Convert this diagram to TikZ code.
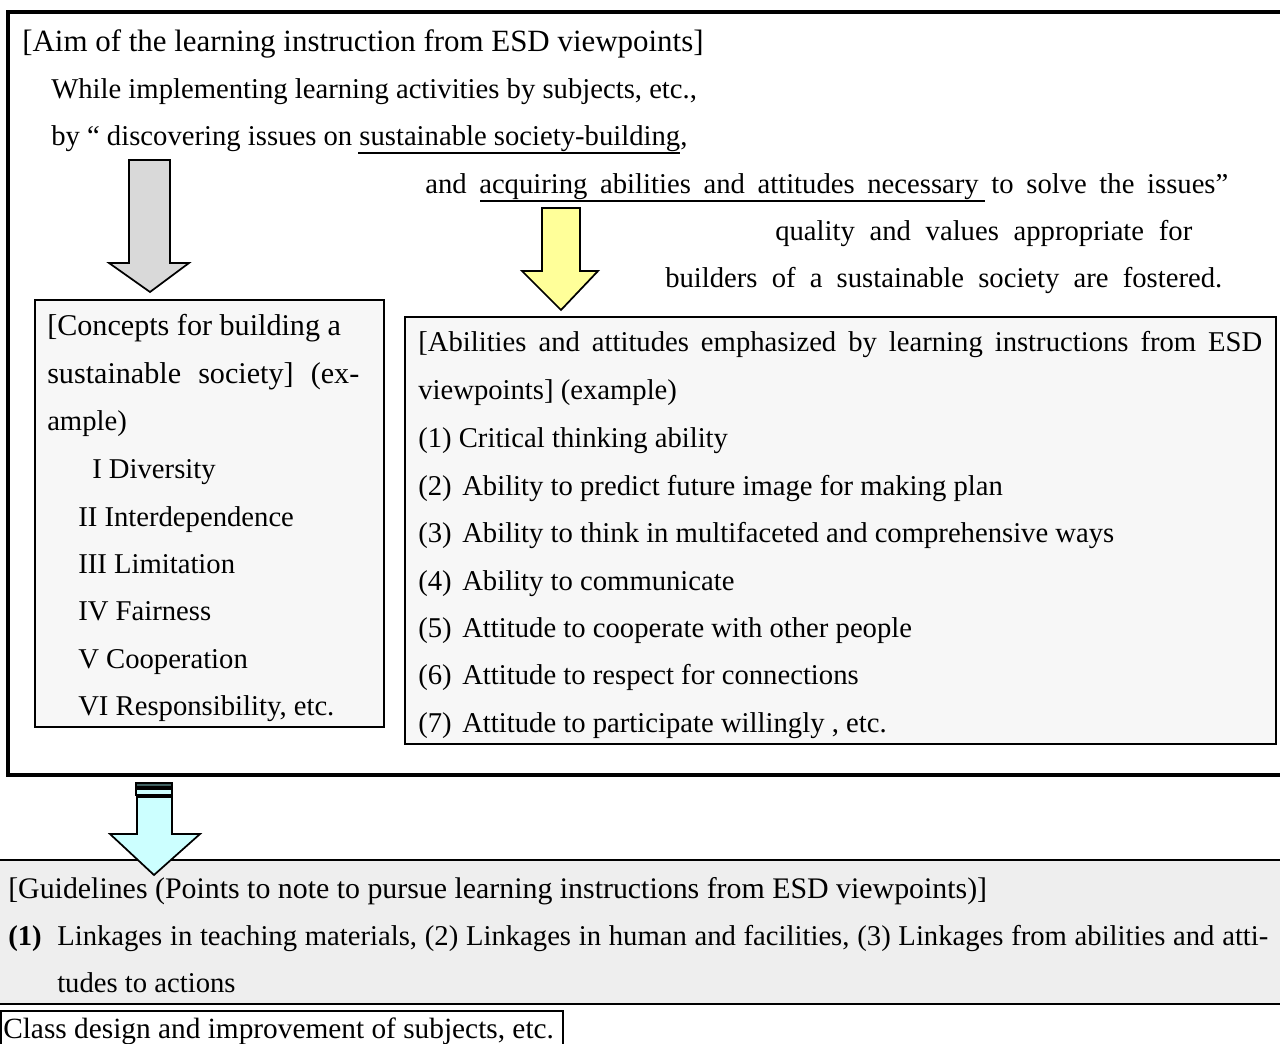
\documentclass[tikz,border=0pt]{standalone}
\usepackage{fontspec}
\setmainfont{Liberation Serif}
\definecolor{boxbg}{HTML}{F7F7F7}
\definecolor{arrgray}{HTML}{D9D9D9}
\definecolor{arryellow}{HTML}{FFFF99}
\definecolor{arrcyan}{HTML}{CCFFFF}
\definecolor{stripedark}{HTML}{3F5F5F}
\definecolor{bandgray}{HTML}{EEEEEE}
\newlength\pxu \setlength\pxu{0.75pt}
\newcommand\jline[2]{\makebox[#1\pxu][s]{#2}}
\begin{document}
\begin{tikzpicture}[x=0.75pt,y=-0.75pt,
  txt/.style={anchor=base west, inner sep=0pt, font=\fontsize{21.5}{26}\selectfont},
  head/.style={txt, font=\fontsize{#1}{26}\selectfont},
  frameline/.style={line width=3pt},
  boxline/.style={draw, line width=1.5pt, fill=boxbg},
  blockarrow/.style={draw, line width=1.3pt, line join=miter},
  uline/.style={line width=1pt}]
\useasboundingbox (0,0) rectangle (1280,1044);
% outer frame
\draw[frameline] (1295,12) -- (8,12) -- (8,775) -- (1295,775);
% text of aim
\node[head=23.2] (aim) at (22,52) {[Aim of the learning instruction from ESD viewpoints]};
\node[txt] (l2) at (51,99) {While implementing learning activities by subjects, etc.,};
\node[txt] (l3) at (51,146) {by “ discovering issues on sustainable society-building,};
\node[txt] (l4) at (425,194) {\jline{803}{and acquiring abilities and attitudes necessary to solve the issues”}};
\node[txt] (l5) at (775,241) {\jline{417}{quality and values appropriate for}};
\node[txt] (l6) at (665,288) {\jline{557}{builders of a sustainable society are fostered.}};
\draw[uline] (358,153) -- (680,153);
\draw[uline] (480,201) -- (985,201);
% gray arrow
\draw[blockarrow, fill=arrgray] (129,160) -- (170,160) -- (170,263) -- (189,263) -- (150,292) -- (109,263) -- (129,263) -- cycle;
% yellow arrow
\draw[blockarrow, fill=arryellow] (542,208) -- (580,208) -- (580,271) -- (598,271) -- (561,310) -- (522,271) -- (542,271) -- cycle;
% left box
\draw[boxline] (35,300) rectangle (384,727);
\node[head=22.6] (c1) at (47,336) {[Concepts for building a};
\node[head=22.6] (c2) at (47,383) {\jline{312}{sustainable society] (ex-}};
\node[txt] (c3) at (47,431) {ample)};
\node[txt] (c4) at (92,478) {I Diversity};
\node[txt] (c5) at (78,526) {II Interdependence};
\node[txt] (c6) at (78,573) {III Limitation};
\node[txt] (c7) at (78,620) {IV Fairness};
\node[txt] (c8) at (78,668) {V Cooperation};
\node[txt] (c9) at (78,715) {VI Responsibility, etc.};
% right box
\draw[boxline] (405,317) rectangle (1276,744);
\node[txt] (a1) at (418,352) {\jline{844}{[Abilities and attitudes emphasized by learning instructions from ESD}};
\node[txt] (a2) at (418,400) {viewpoints] (example)};
\node[txt] (a3) at (418,447) {(1) Critical thinking ability};
\node[txt] (n2) at (418,495) {(2)};
\node[txt] (a4) at (462,495) {Ability to predict future image for making plan};
\node[txt] (n3) at (418,542) {(3)};
\node[txt] (a5) at (462,542) {Ability to think in multifaceted and comprehensive ways};
\node[txt] (n4) at (418,590) {(4)};
\node[txt] (a6) at (462,590) {Ability to communicate};
\node[txt] (n5) at (418,637) {(5)};
\node[txt] (a7) at (462,637) {Attitude to cooperate with other people};
\node[txt] (n6) at (418,684) {(6)};
\node[txt] (a8) at (462,684) {Attitude to respect for connections};
\node[txt] (n7) at (418,732) {(7)};
\node[txt] (a9) at (462,732) {Attitude to participate willingly , etc.};
% guidelines band
\fill[bandgray] (-5,860) rectangle (1295,1004);
\draw[line width=1.2pt] (-5,860) -- (1295,860);
\draw[line width=2.2pt] (-5,1004) -- (1295,1004);
\node[head=22.4] (g1) at (8,898) {[Guidelines (Points to note to pursue learning instructions from ESD viewpoints)]};
\node[txt] (g2) at (8,945) {\textbf{(1)}};
\node[txt] (g3) at (57,945) {\jline{1211}{Linkages in teaching materials, (2) Linkages in human and facilities, (3) Linkages from abilities and atti-}};
\node[txt] (g4) at (57,992) {tudes to actions};
% cyan arrow
\draw[line width=1.2pt, fill=stripedark] (136,783) rectangle (172,787);
\draw[line width=1.2pt, fill=arrcyan] (136,789) rectangle (172,795);
\draw[blockarrow, fill=arrcyan] (137,797) -- (172,797) -- (172,834) -- (200,834) -- (154,875) -- (110,834) -- (137,834) -- cycle;
% class box
\draw[line width=1.5pt] (1,1011) rectangle (563,1046);
\node[head=22] (cls) at (3,1038) {Class design and improvement of subjects, etc.};
\end{tikzpicture}
\end{document}
